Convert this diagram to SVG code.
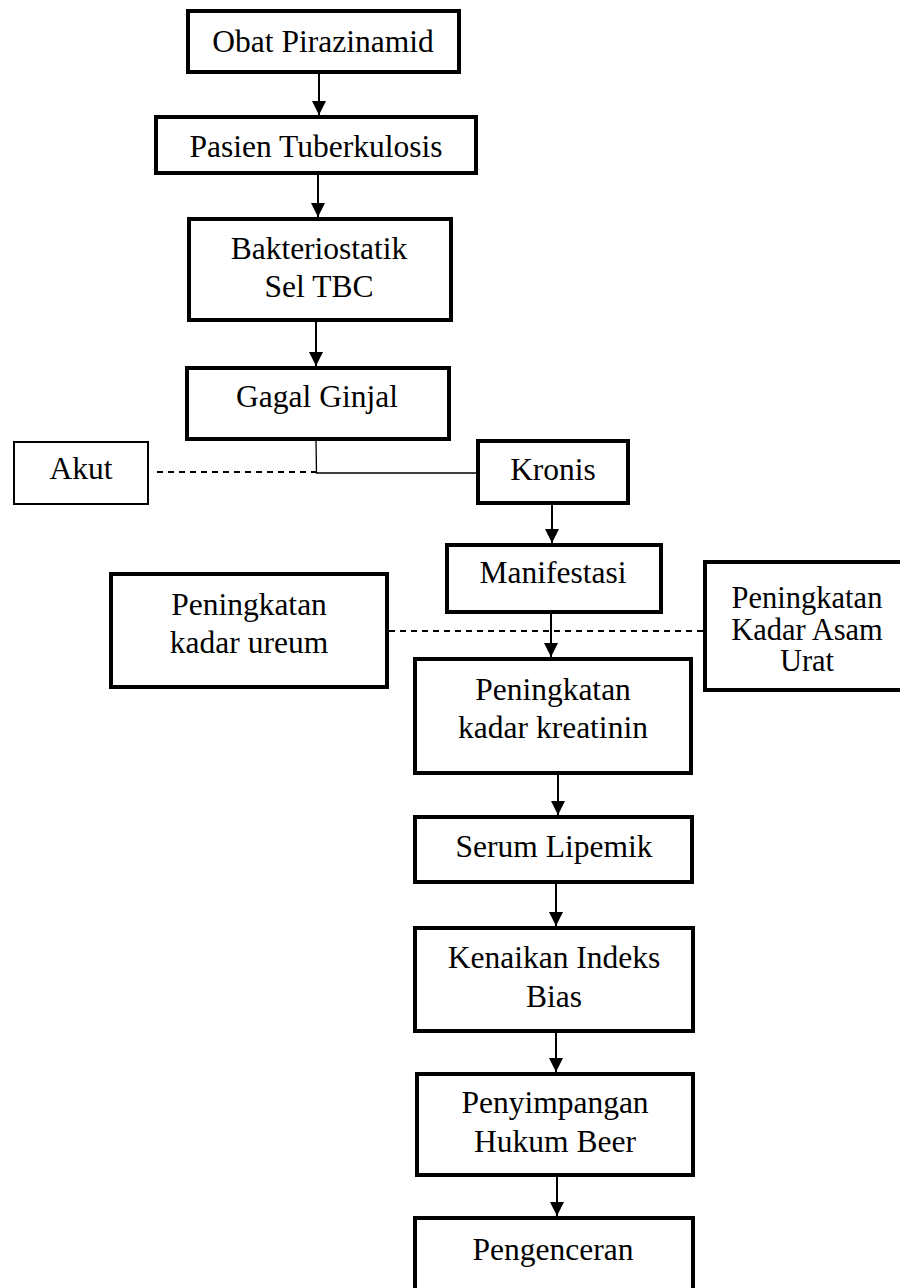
<svg xmlns="http://www.w3.org/2000/svg" width="900" height="1288" viewBox="0 0 900 1288">
<defs>
<marker id="ah" markerUnits="userSpaceOnUse" markerWidth="14" markerHeight="14" viewBox="0 0 14 14" refX="14" refY="7" orient="auto">
<path d="M0,0 L14,7 L0,14 z" fill="#000"/>
</marker>
</defs>
<style>
.box{fill:#fff;stroke:#000;stroke-width:4}
.thin{fill:#fff;stroke:#000;stroke-width:2}
text{font-family:"Liberation Serif","Times New Roman",serif;font-size:31.5px;fill:#000;text-anchor:middle}
.tight{font-size:30.5px}
.arr{stroke:#000;stroke-width:2;fill:none;marker-end:url(#ah)}
.ln{stroke:#000;stroke-width:1.3;fill:none}
.dash{stroke:#000;stroke-width:2;fill:none;stroke-dasharray:6 5}
</style>
<rect width="900" height="1288" fill="#fff"/>
<g id="connectors">
<line class="arr" x1="319" y1="74" x2="319" y2="115"/>
<line class="arr" x1="318" y1="175" x2="318" y2="217"/>
<line class="arr" x1="316" y1="322" x2="316" y2="366"/>
<polyline class="ln" points="316,441 316.5,473 476,473"/>
<line class="dash" x1="157" y1="472" x2="316" y2="472"/>
<line class="arr" x1="552" y1="505" x2="552" y2="543"/>
<line class="arr" x1="551" y1="614" x2="551" y2="657"/>
<line class="dash" x1="389" y1="631" x2="703" y2="631"/>
<line class="arr" x1="558" y1="775" x2="558" y2="815"/>
<line class="arr" x1="556" y1="884" x2="556" y2="926"/>
<line class="arr" x1="556" y1="1033" x2="556" y2="1072"/>
<line class="arr" x1="557" y1="1177" x2="557" y2="1216"/>
</g>
<g id="obat"><rect class="box" x="188" y="11" width="271" height="61"/><text x="323" y="52">Obat Pirazinamid</text></g>
<g id="pasien"><rect class="box" x="156" y="117" width="320" height="56"/><text x="316" y="157">Pasien Tuberkulosis</text></g>
<g id="bakteriostatik"><rect class="box" x="189" y="219" width="262" height="101"/><text x="319" y="259">Bakteriostatik</text><text x="319" y="297">Sel TBC</text></g>
<g id="gagal"><rect class="box" x="187" y="368" width="262" height="71"/><text x="317" y="407">Gagal Ginjal</text></g>
<g id="akut"><rect class="thin" x="14" y="442" width="134" height="62"/><text x="81" y="479">Akut</text></g>
<g id="kronis"><rect class="box" x="478" y="441" width="150" height="62"/><text x="553" y="480">Kronis</text></g>
<g id="manifestasi"><rect class="box" x="447" y="545" width="214" height="67"/><text x="553" y="583">Manifestasi</text></g>
<g id="ureum"><rect class="box" x="111" y="574" width="276" height="113"/><text x="249" y="615">Peningkatan</text><text x="249" y="653">kadar ureum</text></g>
<g id="asamurat"><rect class="box" x="705" y="562" width="220" height="128"/><text class="tight" x="807" y="608">Peningkatan</text><text class="tight" x="807" y="639.5">Kadar Asam</text><text class="tight" x="807" y="671">Urat</text></g>
<g id="kreatinin"><rect class="box" x="415" y="659" width="276" height="114"/><text x="553" y="700">Peningkatan</text><text x="553" y="738">kadar kreatinin</text></g>
<g id="serum"><rect class="box" x="415" y="817" width="277" height="65"/><text x="554" y="857">Serum Lipemik</text></g>
<g id="kenaikan"><rect class="box" x="415" y="928" width="278" height="103"/><text x="554" y="968">Kenaikan Indeks</text><text x="554" y="1007">Bias</text></g>
<g id="penyimpangan"><rect class="box" x="417" y="1074" width="276" height="101"/><text x="555" y="1113">Penyimpangan</text><text x="555" y="1152">Hukum Beer</text></g>
<g id="pengenceran"><rect class="box" x="415" y="1218" width="278" height="100"/><text x="553" y="1260">Pengenceran</text></g>
</svg>
